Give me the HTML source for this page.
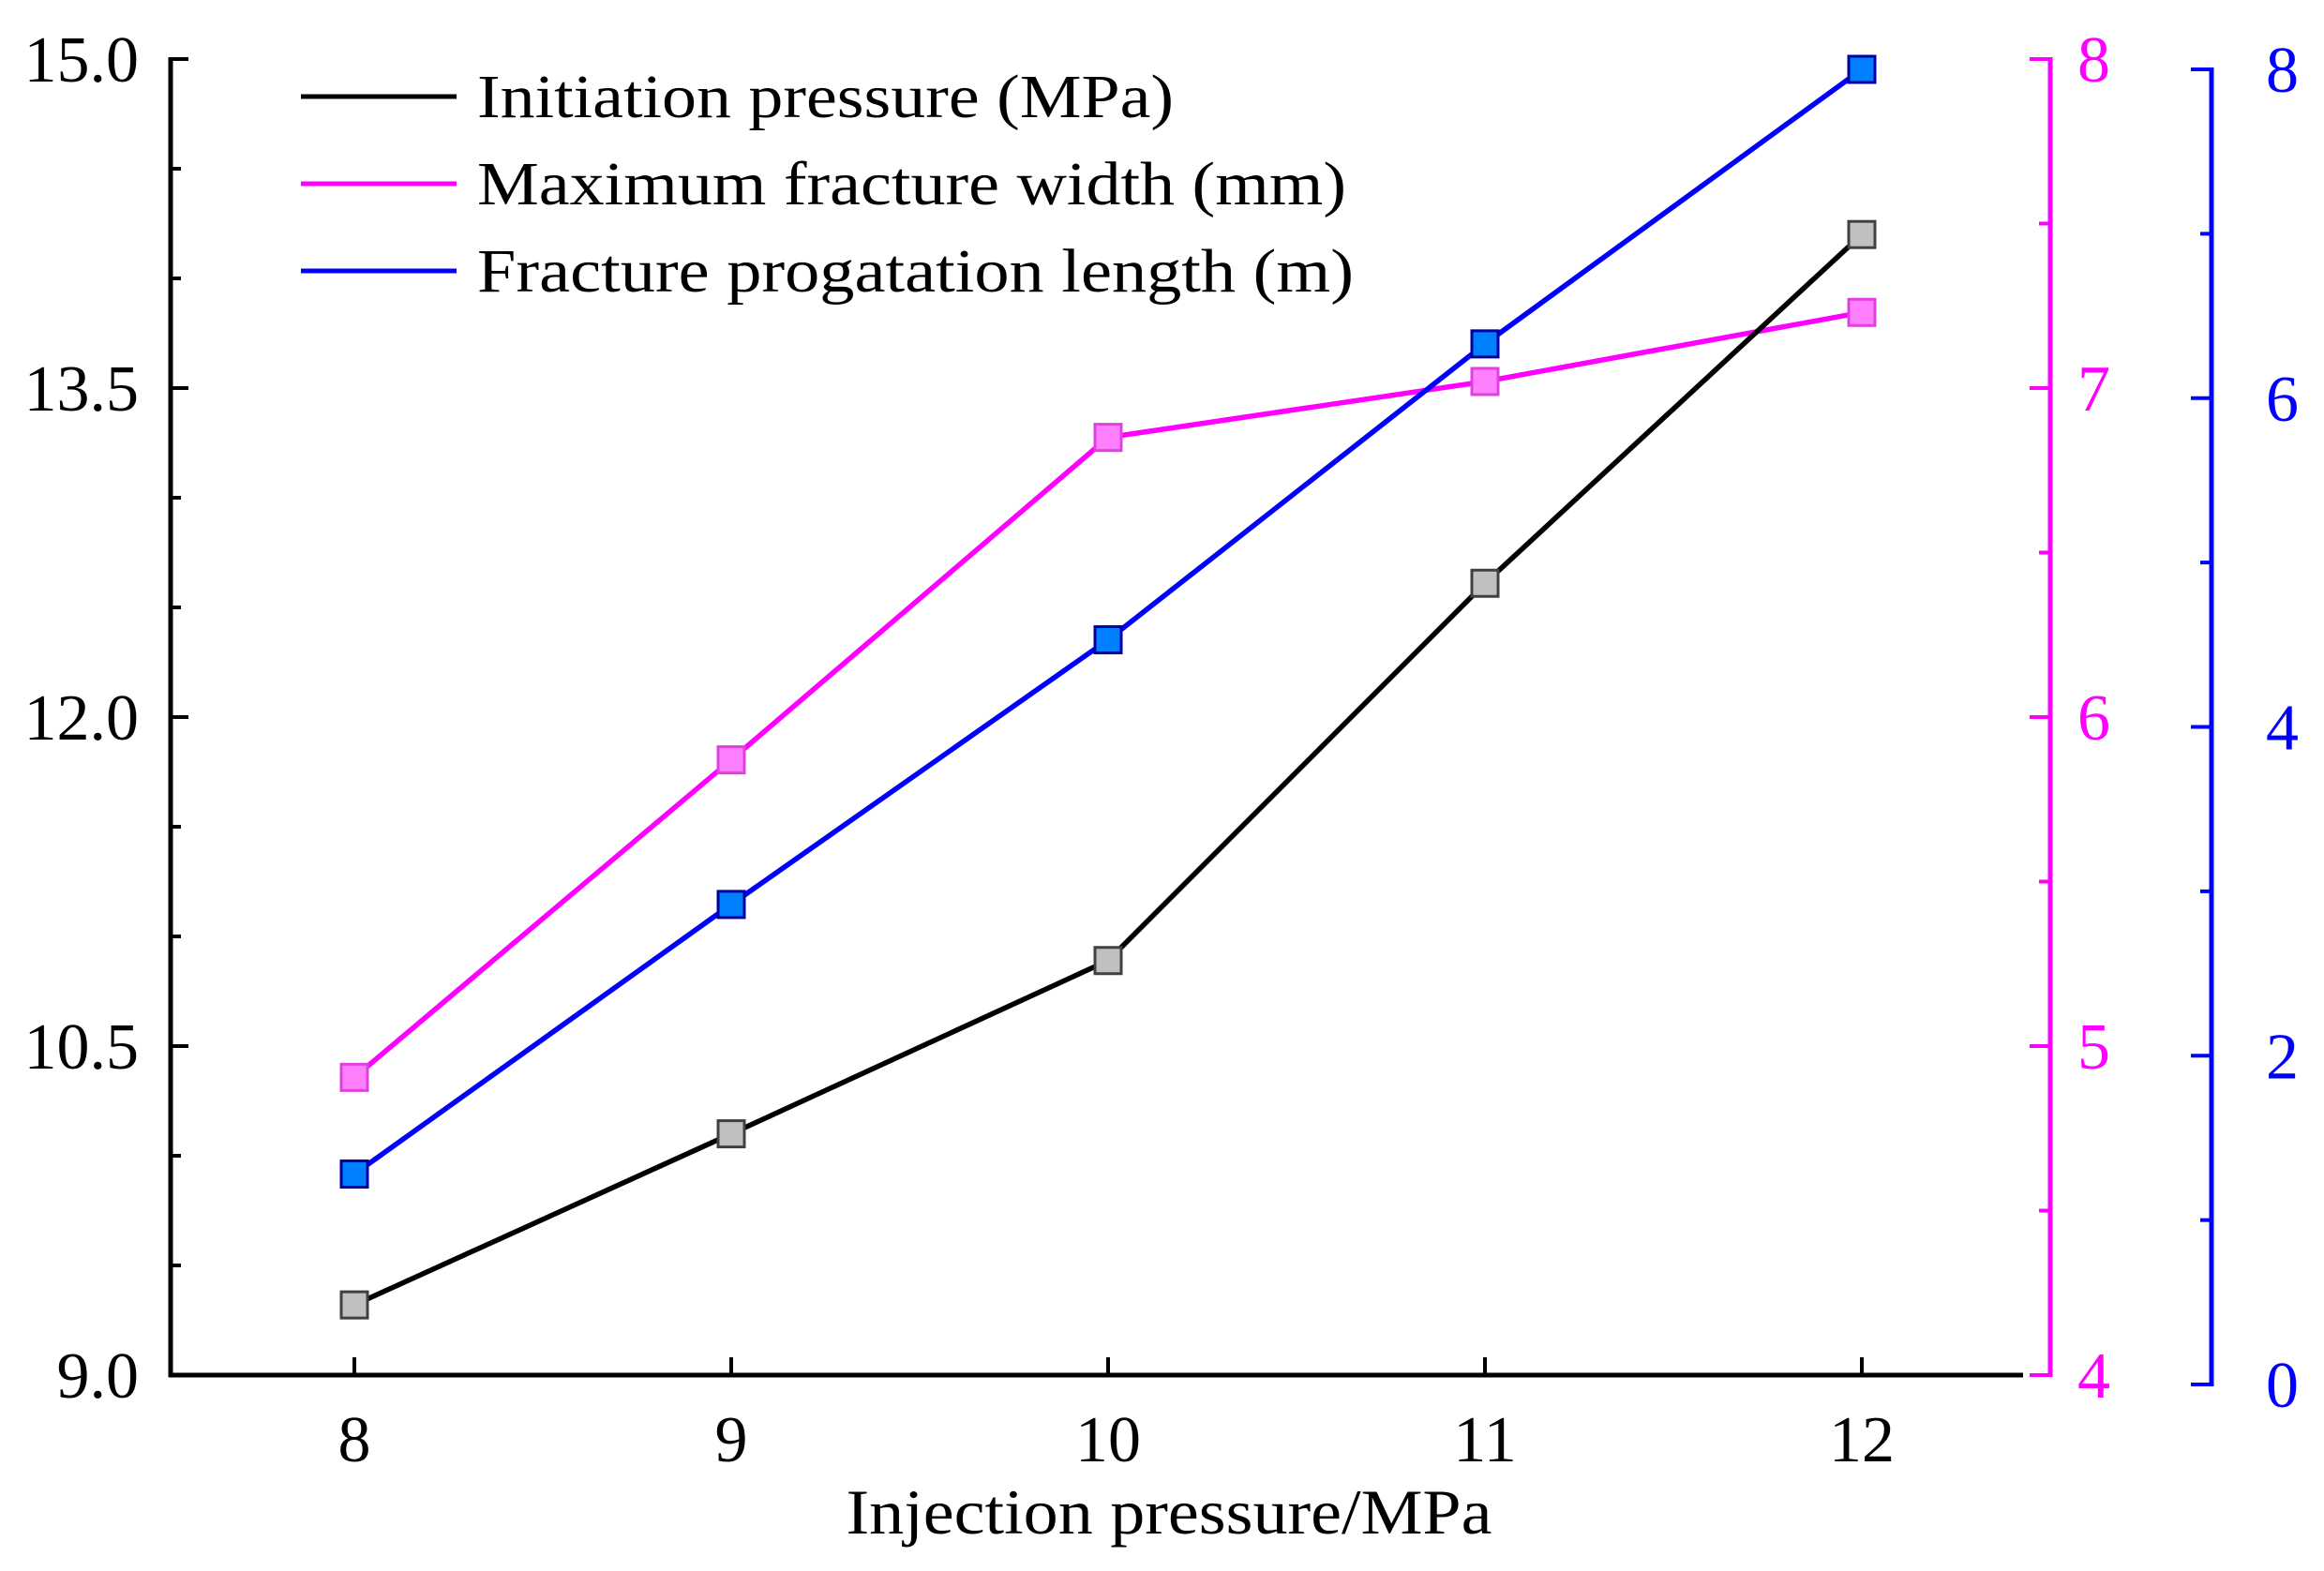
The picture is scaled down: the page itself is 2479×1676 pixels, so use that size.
<!DOCTYPE html>
<html><head><meta charset="utf-8"><style>html,body{margin:0;padding:0;background:#fff}svg{display:block}text{font-family:"Liberation Serif",serif}</style></head>
<body>
<svg id="chart" width="2479" height="1676" viewBox="0 0 2479 1676" xmlns="http://www.w3.org/2000/svg"></svg>
<script>
const categories=[8,9,10,11,12];
const initiationPressure=[9.32,10.10,10.89,12.61,14.20];
const maxFractureWidth=[4.905,5.87,6.85,7.02,7.23];
const propagationLength=[1.28,2.92,4.53,6.33,8.0];
const leftTicks=["9.0","10.5","12.0","13.5","15.0"];
const pinkTicks=["4","5","6","7","8"];
const blueTicks=["0","2","4","6","8"];
const legendLabels=["Initiation pressure (MPa)","Maximum fracture width (mm)","Fracture progatation length (m)"];

const NS="http://www.w3.org/2000/svg";
const svg=document.getElementById('chart');
function mk(tag,attrs,parent){const e=document.createElementNS(NS,tag);for(const k in attrs)e.setAttribute(k,attrs[k]);(parent||svg).appendChild(e);return e;}
const X0=182,X1=2158;
const xs=v=>378+(v-8)*402;
const yL=v=>1467-(v-9)/6*(1467-63);
const yP=v=>1467-(v-4)/4*(1467-63);
const yB=v=>1477-v/8*(1477-74);

let a=mk('line',{x1:X0,y1:61,x2:X0,y2:1469,stroke:'#000','stroke-width':5});

a=mk('line',{x1:X0-2,y1:1467,x2:X1,y2:1467,stroke:'#000','stroke-width':5});

for(let i=0;i<=12;i++){const v=9+i*0.5;const y=yL(v);const major=i%3===0;
 const t=mk('line',{x1:X0,y1:y,x2:X0+(major?19:11),y2:y,stroke:'#000','stroke-width':4});
 }
leftTicks.forEach(s=>{const v=parseFloat(s);const t=mk('text',{x:148,y:yL(v)+24,'font-size':70,'text-anchor':'end'});t.textContent=s;
 });
categories.forEach(c=>{const x=xs(c);const t=mk('line',{x1:x,y1:1467,x2:x,y2:1448,stroke:'#000','stroke-width':4});
 
 const l=mk('text',{x:x,y:1559,'font-size':70,'text-anchor':'middle'});l.textContent=c;
 });
const xt=mk('text',{x:1247,y:1636,'font-size':68,'text-anchor':'middle',textLength:689,lengthAdjust:'spacingAndGlyphs'});xt.textContent="Injection pressure/MPa";


const PX=2187;
a=mk('line',{x1:PX,y1:61,x2:PX,y2:1469,stroke:'#ff00ff','stroke-width':5});

for(let i=0;i<=8;i++){const v=4+i*0.5;const y=yP(v);const major=i%2===0;
 const t=mk('line',{x1:PX,y1:y,x2:PX-(major?22:12),y2:y,stroke:'#ff00ff','stroke-width':4});
 }
pinkTicks.forEach(s=>{const t=mk('text',{x:2216,y:yP(+s)+24,'font-size':70,fill:'#ff00ff'});t.textContent=s;
 });

const BX=2359;
a=mk('line',{x1:BX,y1:72,x2:BX,y2:1479,stroke:'#0000ff','stroke-width':5});

for(let i=0;i<=8;i++){const v=i;const y=yB(v);const major=i%2===0;
 const t=mk('line',{x1:BX,y1:y,x2:BX-(major?22:12),y2:y,stroke:'#0000ff','stroke-width':4});
 }
blueTicks.forEach(s=>{const t=mk('text',{x:2417,y:yB(+s)+24,'font-size':70,fill:'#0000ff'});t.textContent=s;
 });

function series(vals,yf,lineColor,fill,edge,name){
 const pts=vals.map((v,i)=>xs(categories[i])+','+yf(v)).join(' ');
 const p=mk('polyline',{points:pts,fill:'none',stroke:lineColor,'stroke-width':5.5});
 
 vals.forEach((v,i)=>{const r=mk('rect',{x:xs(categories[i])-14,y:yf(v)-14,width:28,height:28,fill:fill,stroke:edge,'stroke-width':3});
  });
}
series(maxFractureWidth,yP,'#ff00ff','#ff80ff','#e040e0','max-fracture-width');
series(propagationLength,yB,'#0000ff','#0080ff','#0000a0','propagation-length');
series(initiationPressure,yL,'#000','#c0c0c0','#404040','initiation-pressure');

const lc=['#000','#ff00ff','#0000ff'];const ly=[103,196,289];const lw=[743,927,935];
legendLabels.forEach((s,i)=>{const l=mk('line',{x1:321,y1:ly[i],x2:487,y2:ly[i],stroke:lc[i],'stroke-width':5});
 
 const t=mk('text',{x:509,y:ly[i]+22,'font-size':66,textLength:lw[i],lengthAdjust:'spacingAndGlyphs'});t.textContent=s;
 });
</script>
</body></html>
